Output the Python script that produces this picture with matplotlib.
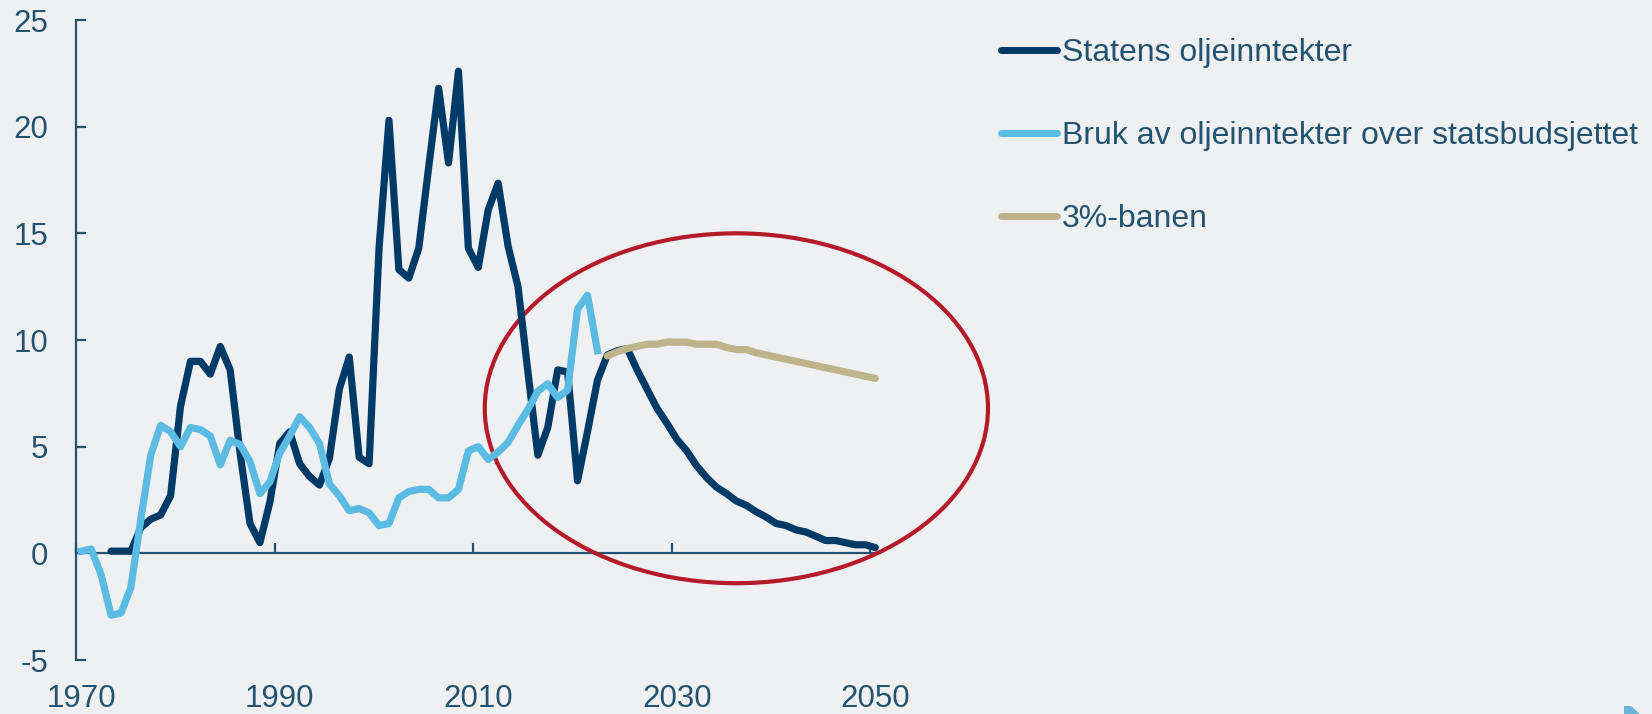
import numpy as np
import matplotlib
matplotlib.use("Agg")
import matplotlib.pyplot as plt
from matplotlib.patches import Ellipse, Polygon

# ---- data ----
oil_years = list(range(1973, 2051))
oil_revenue = [0.1, 0.1, 0.1, 1.2, 1.6, 1.8, 2.7, 6.9, 9.0, 9.0,
               8.4, 9.7, 8.6, 4.7, 1.4, 0.5, 2.4, 5.15, 5.7, 4.2,
               3.6, 3.2, 4.45, 7.7, 9.2, 4.5, 4.2, 14.3, 20.3, 13.3,
               12.9, 14.3, 18.1, 21.8, 18.3, 22.6, 14.3, 13.4, 16.1, 17.35,
               14.4, 12.5, 8.5, 4.6, 5.9, 8.6, 8.5, 3.4, 5.7, 8.1,
               9.3, 9.5, 9.6, 8.6, 7.7, 6.8, 6.1, 5.35, 4.8, 4.1,
               3.55, 3.1, 2.8, 2.45, 2.25, 1.95, 1.7, 1.4, 1.3, 1.1,
               1.0, 0.8, 0.6, 0.6, 0.5, 0.4, 0.4, 0.27]

use_years = list(range(1970, 2023))
oil_use = [0.1, 0.2, -1.0, -2.9, -2.8, -1.6, 1.6, 4.6, 6.0, 5.7,
           5.0, 5.9, 5.8, 5.5, 4.15, 5.3, 5.1, 4.3, 2.8, 3.35,
           4.7, 5.5, 6.4, 5.9, 5.15, 3.25, 2.7, 2.0, 2.1, 1.9,
           1.3, 1.4, 2.6, 2.9, 3.0, 3.0, 2.6, 2.6, 3.0, 4.8,
           5.0, 4.4, 4.75, 5.2, 6.0, 6.75, 7.6, 7.95, 7.3, 7.65,
           11.45, 12.1, 9.5]

path_years = list(range(2023, 2051))
three_pct_path = [9.25, 9.45, 9.6, 9.7, 9.8, 9.8, 9.9, 9.9, 9.9, 9.8,
                  9.8, 9.8, 9.65, 9.55, 9.55, 9.4, 9.3, 9.2, 9.1, 9.0,
                  8.9, 8.8, 8.7, 8.6, 8.5, 8.4, 8.3, 8.2]

labels = ["Statens oljeinntekter",
          "Bruk av oljeinntekter over statsbudsjettet",
          "3%-banen"]
x_tick_years = [1970, 1990, 2010, 2030, 2050]
y_ticks = [-5, 0, 5, 10, 15, 20, 25]

# highlighted region (ellipse): centre year, centre value, width (years), height
ellipse_spec = (2036.5, 6.8, 50.7, 16.4)

# ---- style ----
BG = "#eff0f2"
TXT = "#24536f"
DARK = "#003b68"
LIGHT = "#5bbbe3"
TAN = "#bfb38c"
RED = "#b31b2a"

plt.rcParams["font.family"] = ["Liberation Sans", "DejaVu Sans"]

fig = plt.figure(figsize=(16.52, 7.14), dpi=100, facecolor=BG)
ax = fig.add_axes([76.3 / 1652, 54 / 714, 804 / 1652, 640 / 714])
ax.set_facecolor(BG)

def mid(years):
    # annual values plotted at mid-year
    return np.asarray(years, dtype=float) + 0.5

lw = 5.2
ax.plot(mid(oil_years), oil_revenue, color=DARK, lw=lw, zorder=3,
        solid_joinstyle="round", solid_capstyle="round", label=labels[0])
ax.plot(mid(use_years), oil_use, color=LIGHT, lw=lw, zorder=4,
        solid_joinstyle="round", label=labels[1])
ax.plot(mid(path_years), three_pct_path, color=TAN, lw=lw, zorder=5,
        solid_capstyle="round", label=labels[2])

cx, cy, w, h = ellipse_spec
ell = Ellipse((cx, cy), w, h, fill=False, edgecolor=RED, lw=3.0,
              zorder=2, clip_on=False)
ax.add_patch(ell)

ax.set_xlim(1970, 2051)
ax.set_ylim(-5, 25)

# y axis
for s in ["top", "right", "bottom"]:
    ax.spines[s].set_visible(False)
ax.spines["left"].set_color(TXT)
ax.spines["left"].set_linewidth(1.6)
ax.set_yticks(y_ticks)
ax.set_yticklabels([str(v) for v in y_ticks])
ax.tick_params(axis="y", direction="in", length=7.2, width=1.6, color=TXT,
               labelcolor=TXT, labelsize=22.5, pad=20)

# x labels at the bottom, centred on mid-year
ax.set_xticks(mid(x_tick_years))
ax.set_xticklabels([str(y) for y in x_tick_years])
ax.tick_params(axis="x", length=0, labelcolor=TXT, labelsize=22.5, pad=17)

# zero line with tick marks
frac0 = (0 - (-5)) / 30
sec = ax.secondary_xaxis(frac0)
sec.spines["bottom"].set_color(TXT)
sec.spines["bottom"].set_linewidth(1.6)
sec.set_xticks(x_tick_years)
sec.set_xticklabels([])
sec.tick_params(axis="x", direction="in", length=7.2, width=1.6, color=TXT)

leg = fig.legend(loc="upper left", bbox_to_anchor=(1001 / 1652, 1 - 38 / 714),
                 frameon=False, fontsize=23, handlelength=1.75,
                 handletextpad=0.15, labelspacing=1.66, borderpad=0,
                 borderaxespad=0, labelcolor=TXT)
for line in leg.get_lines():
    line.set_linewidth(5.0)
    line.set_solid_capstyle("round")

# small corner decoration
tr = fig.transFigure
pts = [(1624 / 1652, 0), (1624 / 1652, 8 / 714), (1631 / 1652, 8 / 714), (1640 / 1652, 0)]
fig.patches.append(Polygon(pts, closed=True, transform=tr, facecolor="#6ab4d8",
                           edgecolor="none", figure=fig))

fig.savefig("out.png", dpi=100, facecolor=BG)
